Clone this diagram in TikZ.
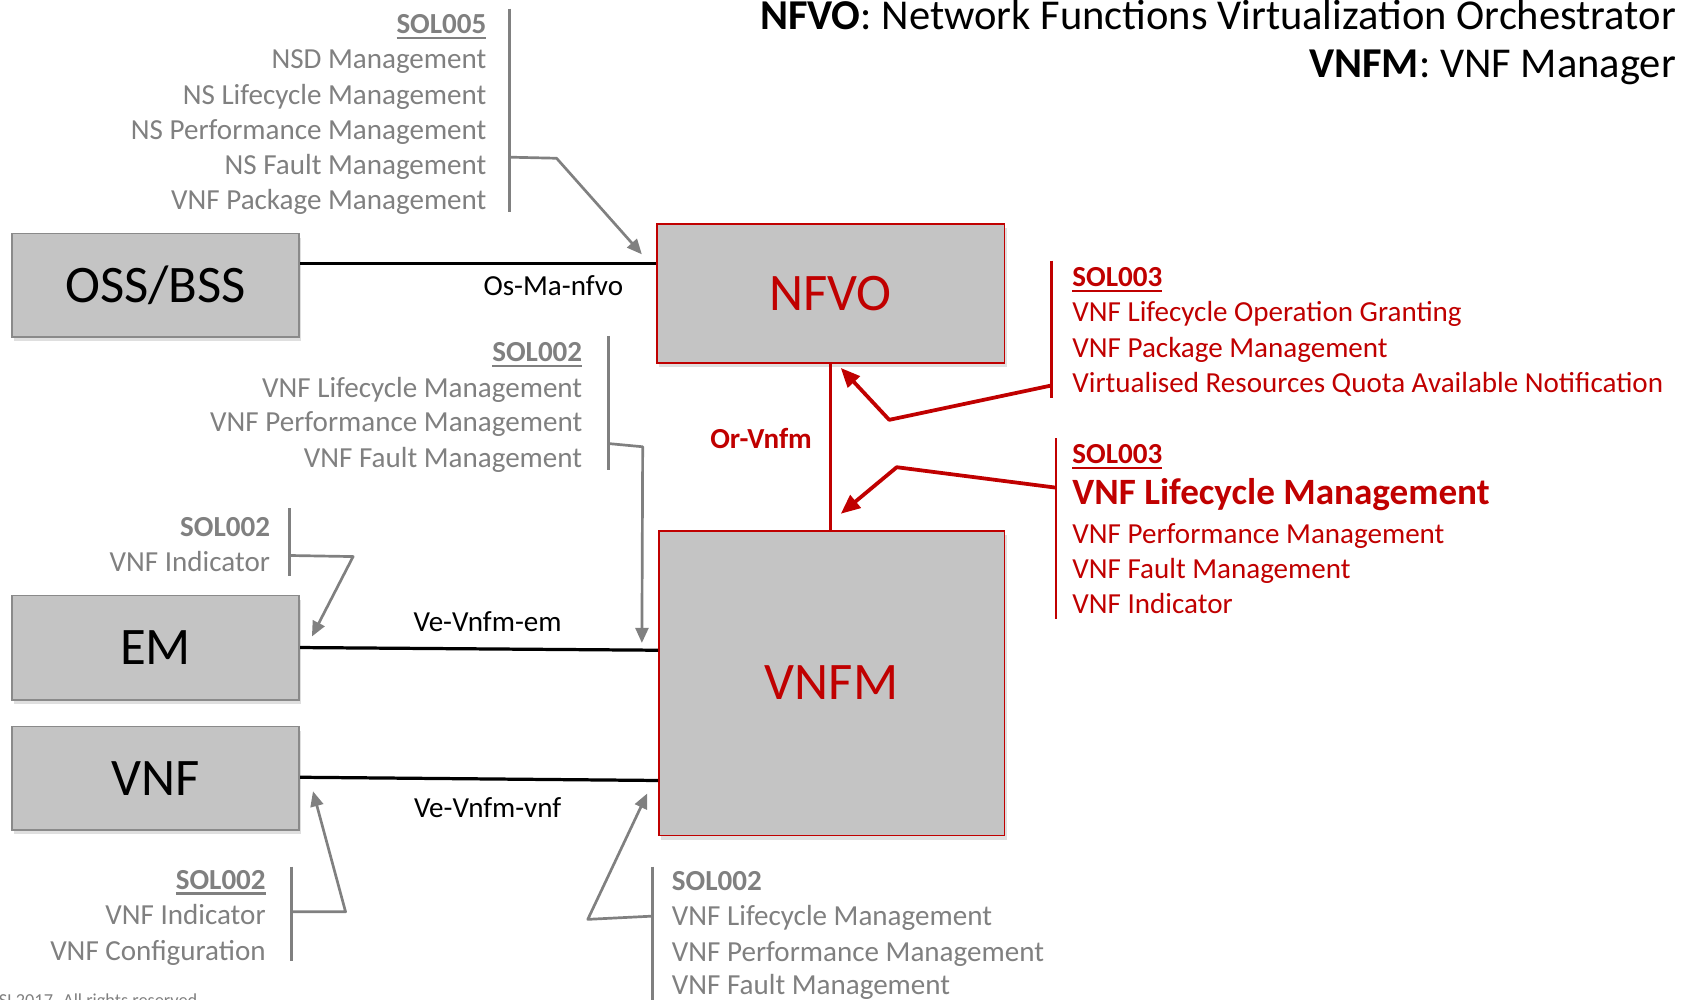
\documentclass[tikz,border=0pt]{standalone}
\usepackage{fontspec}
\setmainfont{Carlito}
\usetikzlibrary{arrows.meta,shadows,calc}
\definecolor{boxfill}{HTML}{C4C4C4}
\definecolor{boxline}{HTML}{8A8A8A}
\definecolor{txtgray}{HTML}{808080}
\definecolor{etsired}{HTML}{C00000}
\newcommand{\myul}[1]{\setbox0\hbox{#1}\rlap{\vrule height -3pt depth 5pt width \wd0}\box0}
\begin{document}
\begin{tikzpicture}[x=1pt,y=-1pt,
  graybox/.style={draw=boxline,line width=1.5pt,fill=boxfill,
    drop shadow={shadow xshift=2pt,shadow yshift=-4pt,opacity=0.25},
    inner sep=0pt,font=\fontsize{49}{58}\selectfont},
  redbox/.style={graybox,draw=etsired,text=etsired},
  body/.style={font=\fontsize{27}{33}\selectfont,inner sep=0pt},
  gtext/.style={body,text=txtgray},
  rtext/.style={body,text=etsired},
  bar/.style={draw=txtgray,line width=2.5pt},
  rbar/.style={draw=etsired,line width=2.5pt},
  garrow/.style={draw=txtgray,line width=2.5pt,line join=round,-{Triangle[length=14pt,width=12pt]}},
  rarrow/.style={draw=etsired,line width=3.5pt,line join=round,-{Triangle[length=18pt,width=15pt]}},
  iface/.style={draw=black,line width=3pt}]
\useasboundingbox (0,0) rectangle (1568,928);

% title
\node[anchor=base east,inner sep=0pt,font=\fontsize{39.5}{46}\selectfont] (t1) at (1557,27) {\textbf{NFVO}: Network Functions Virtualization Orchestrator};
\node[anchor=base east,inner sep=0pt,font=\fontsize{39.5}{46}\selectfont] (t2) at (1557,72) {\textbf{VNFM}: VNF Manager};

% boxes
\node[graybox,minimum width=267pt,minimum height=96pt] (oss) at (144.5,265) {OSS/BSS};
\node[graybox,minimum width=267pt,minimum height=97pt] (em) at (144.5,601.5) {EM};
\node[graybox,minimum width=267pt,minimum height=96pt] (vnf) at (144.5,723) {VNF};
\node[redbox,minimum width=323pt,minimum height=129pt] (nfvo) at (771.5,272.5) {NFVO};
\node[redbox,minimum width=321pt,minimum height=283pt] (vnfm) at (772.5,634.5) {VNFM};

% interfaces
\draw[iface] ([yshift=20pt]oss.east) -- ([yshift=27.5pt]nfvo.west);
\draw[iface] (em.east) -- ([yshift=30.5pt]vnfm.west);
\draw[iface] ([yshift=1pt]vnf.east) -- ([yshift=-90.5pt]vnfm.west);
\draw[draw=etsired,line width=2.5pt] (nfvo.south) -- (nfvo.south |- vnfm.north);

\node[body] (l1) at (514,265) {Os-Ma-nfvo};
\node[body] (l2) at (453,577) {Ve-Vnfm-em};
\node[body] (l3) at (453,750) {Ve-Vnfm-vnf};
\node[rtext] (l4) at (707,407) {\textbf{Or-Vnfm}};

% SOL005
\node[gtext,anchor=base east] (s5h) at (452,31) {\myul{\textbf{SOL005}}};
\node[gtext,anchor=base east] (s5a) at (452,64) {NSD Management};
\node[gtext,anchor=base east] (s5b) at (452,97) {NS Lifecycle Management};
\node[gtext,anchor=base east] (s5c) at (452,130) {NS Performance Management};
\node[gtext,anchor=base east] (s5d) at (452,162) {NS Fault Management};
\node[gtext,anchor=base east] (s5e) at (452,195) {VNF Package Management};
\coordinate (s5t) at (473,8);
\coordinate (s5u) at (473,197);
\coordinate (s5j) at (473,146);
\coordinate (s5k) at (517,147);
\draw[bar] (s5t) -- (s5u);
\draw[garrow] (s5j) -- (s5k) -- ($(nfvo.north west)+(-13,29)$);

% SOL002 upper (VNFM)
\node[gtext,anchor=base east] (a2h) at (541,336) {\myul{\textbf{SOL002}}};
\node[gtext,anchor=base east] (a2a) at (541,369) {VNF Lifecycle Management};
\node[gtext,anchor=base east] (a2b) at (541,401) {VNF Performance Management};
\node[gtext,anchor=base east] (a2c) at (541,434) {VNF Fault Management};
\coordinate (a2t) at (565,312);
\coordinate (a2u) at (565,437);
\coordinate (a2j) at (565,412);
\coordinate (a2k) at (597,415);
\draw[bar] (a2t) -- (a2u);
\draw[garrow] (a2j) -- (a2k) -- ($(vnfm.north west)+(-15,105)$);

% SOL002 EM
\node[gtext,anchor=base east] (b2h) at (251,498) {\textbf{SOL002}};
\node[gtext,anchor=base east] (b2a) at (251,531) {VNF Indicator};
\coordinate (b2t) at (269,472);
\coordinate (b2u) at (269,535);
\coordinate (b2j) at (269,516);
\coordinate (b2k) at (328,517);
\draw[bar] (b2t) -- (b2u);
\draw[garrow] (b2j) -- (b2k) -- ($(em.north east)+(11,39)$);

% SOL002 VNF
\node[gtext,anchor=base east] (c2h) at (247,826) {\myul{\textbf{SOL002}}};
\node[gtext,anchor=base east] (c2a) at (247,859) {VNF Indicator};
\node[gtext,anchor=base east] (c2b) at (247,892) {VNF Configuration};
\coordinate (c2t) at (271,805);
\coordinate (c2u) at (271,893);
\coordinate (c2j) at (271,847);
\coordinate (c2k) at (321,847);
\draw[bar] (c2t) -- (c2u);
\draw[garrow] (c2j) -- (c2k) -- ($(vnf.east)+(12,12)$);

% SOL002 bottom (VNFM)
\node[gtext,anchor=base west] (d2h) at (624,827) {\textbf{SOL002}};
\node[gtext,anchor=base west] (d2a) at (624,860) {VNF Lifecycle Management};
\node[gtext,anchor=base west] (d2b) at (624,893) {VNF Performance Management};
\node[gtext,anchor=base west] (d2c) at (624,924) {VNF Fault Management};
\coordinate (d2t) at (606,805);
\coordinate (d2u) at (606,935);
\coordinate (d2j) at (606,851);
\coordinate (d2k) at (546,854);
\draw[bar] (d2t) -- (d2u);
\draw[garrow] (d2j) -- (d2k) -- ($(vnfm.west)+(-10,102.5)$);

% SOL003 upper (NFVO)
\node[rtext,anchor=base west] (e3h) at (996,266) {\myul{\textbf{SOL003}}};
\node[rtext,anchor=base west] (e3a) at (996,299) {VNF Lifecycle Operation Granting};
\node[rtext,anchor=base west] (e3b) at (996,332) {VNF Package Management};
\node[rtext,anchor=base west] (e3c) at (996,365) {Virtualised Resources Quota Available Notification};
\coordinate (e3t) at (977,242);
\coordinate (e3u) at (977,370);
\coordinate (e3j) at (977,358);
\coordinate (e3k) at (826,390);
\draw[rbar] (e3t) -- (e3u);
\draw[rarrow] (e3j) -- (e3k) -- ($(nfvo.south)+(9.5,4)$);

% SOL003 lower (VNFM)
\node[rtext,anchor=base west] (f3h) at (996,431) {\myul{\textbf{SOL003}}};
\node[rtext,anchor=base west,font=\fontsize{34.5}{40}\selectfont\bfseries] (f3a) at (996,469) {VNF Lifecycle Management};
\node[rtext,anchor=base west] (f3b) at (996,505) {VNF Performance Management};
\node[rtext,anchor=base west] (f3c) at (996,537) {VNF Fault Management};
\node[rtext,anchor=base west] (f3d) at (996,570) {VNF Indicator};
\coordinate (f3t) at (981,407);
\coordinate (f3u) at (981,575);
\coordinate (f3j) at (981,453);
\coordinate (f3k) at (833,434);
\draw[rbar] (f3t) -- (f3u);
\draw[rarrow] (f3j) -- (f3k) -- ($(vnfm.north)+(8.5,-15)$);

% copyright (cut off at the lower edge, as in the original)
\node[anchor=base west,inner sep=0pt,text=txtgray,font=\fontsize{17}{20}\selectfont] (copy) at (-32,935) {©ETSI 2017. All rights reserved};
\end{tikzpicture}
\end{document}
